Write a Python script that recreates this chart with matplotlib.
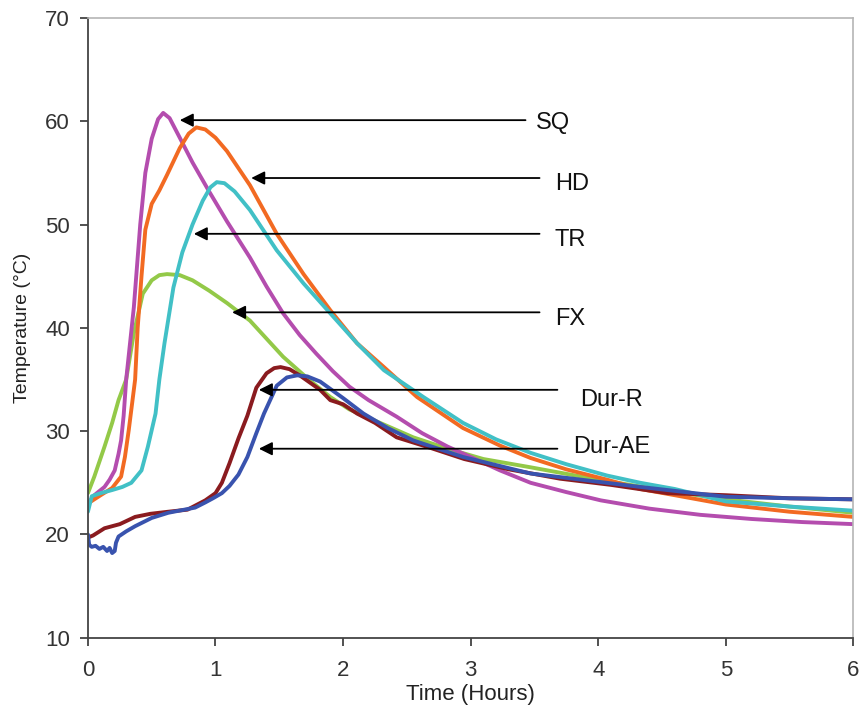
import matplotlib
matplotlib.use("Agg")
import matplotlib.pyplot as plt

plt.rcParams['font.family'] = ['Liberation Sans', 'DejaVu Sans']

# temperature curves (time in hours, temperature in C)
sq_t = [0, 0.05, 0.13, 0.17, 0.21, 0.24, 0.26, 0.28, 0.3, 0.33, 0.36, 0.41, 0.45,
        0.5, 0.55, 0.59, 0.64, 0.72, 0.82, 0.95, 1.09, 1.27, 1.4, 1.53, 1.66,
        1.79, 1.92, 2.05, 2.2, 2.42, 2.62, 2.82, 3.0, 3.23, 3.47, 3.75, 4.02,
        4.4, 4.8, 5.2, 5.6, 6.0]
sq_y = [23.0, 23.8, 24.6, 25.3, 26.2, 27.8, 29.1, 31.5, 35.0, 38.5, 42.0, 50.0, 55.0,
        58.3, 60.2, 60.8, 60.3, 58.4, 56.0, 53.2, 50.3, 46.8, 44.0, 41.4, 39.3,
        37.5, 35.8, 34.3, 33.0, 31.4, 29.8, 28.5, 27.5, 26.2, 25.0, 24.1, 23.3,
        22.5, 21.9, 21.5, 21.2, 21.0]

hd_t = [0, 0.1, 0.19, 0.26, 0.29, 0.32, 0.37, 0.39, 0.42, 0.45, 0.5, 0.56, 0.62,
        0.72, 0.79, 0.85, 0.92, 1.0, 1.09, 1.27, 1.48, 1.69, 1.9, 2.11, 2.32,
        2.58, 2.94, 3.23, 3.47, 3.75, 4.07, 4.33, 4.6, 5.0, 5.5, 6.0]
hd_y = [23.0, 23.8, 24.5, 25.6, 27.5, 30.1, 35.0, 40.0, 45.0, 49.5, 52.0, 53.3, 54.8,
        57.4, 58.8, 59.4, 59.2, 58.4, 57.1, 53.8, 49.1, 45.2, 41.7, 38.5, 36.2,
        33.3, 30.3, 28.6, 27.4, 26.3, 25.3, 24.4, 23.8, 22.9, 22.2, 21.7]

tr_t = [0, 0.03, 0.1, 0.19, 0.27, 0.34, 0.42, 0.47, 0.53, 0.56, 0.6, 0.67, 0.74,
        0.82, 0.9, 0.96, 1.01, 1.07, 1.15, 1.27, 1.48, 1.69, 1.9, 2.11, 2.32,
        2.63, 2.94, 3.2, 3.47, 3.75, 4.07, 4.33, 4.6, 5.0, 5.5, 6.0]
tr_y = [22.2, 23.7, 24.0, 24.3, 24.6, 25.0, 26.2, 28.5, 31.7, 35.0, 38.5, 43.9, 47.3,
        50.0, 52.3, 53.6, 54.1, 54.0, 53.2, 51.4, 47.5, 44.3, 41.4, 38.5, 35.9,
        33.3, 30.8, 29.2, 27.9, 26.8, 25.7, 25.0, 24.4, 23.2, 22.7, 22.3]

fx_t = [0, 0.05, 0.13, 0.19, 0.24, 0.3, 0.36, 0.43, 0.5, 0.56, 0.62, 0.72, 0.82,
        0.95, 1.09, 1.27, 1.53, 1.74, 1.9, 2.05, 2.29, 2.55, 2.82, 3.1, 3.47,
        4.0, 4.5, 5.0, 5.5, 6.0]
fx_y = [24.0, 25.6, 28.5, 30.8, 33.0, 35.0, 39.5, 43.3, 44.6, 45.1, 45.2, 45.1, 44.6,
        43.6, 42.4, 40.7, 37.2, 34.9, 33.3, 32.1, 30.8, 29.4, 28.3, 27.3, 26.5,
        25.3, 24.3, 23.4, 22.7, 22.1]

dr_t = [0, 0.04, 0.13, 0.25, 0.37, 0.49, 0.63, 0.78, 0.92, 1.0, 1.05, 1.11, 1.18,
        1.25, 1.32, 1.4, 1.46, 1.51, 1.58, 1.66, 1.74, 1.82, 1.9, 2.0, 2.11,
        2.25, 2.42, 2.68, 2.95, 3.3, 3.7, 4.1, 4.54, 5.0, 5.5, 6.0]
dr_y = [19.7, 19.9, 20.6, 21.0, 21.7, 22.0, 22.2, 22.4, 23.3, 24.0, 25.0, 26.9, 29.3,
        31.5, 34.2, 35.6, 36.1, 36.2, 36.0, 35.4, 34.7, 34.0, 33.0, 32.6, 31.7,
        30.8, 29.4, 28.4, 27.3, 26.3, 25.4, 24.8, 24.0, 23.8, 23.5, 23.4]

ae_t = [0, 0.01, 0.03, 0.06, 0.09, 0.12, 0.15, 0.17, 0.19, 0.21, 0.22, 0.24, 0.3,
        0.37, 0.5, 0.63, 0.84, 0.92, 0.98, 1.05, 1.11, 1.18, 1.25, 1.32, 1.38,
        1.48, 1.56, 1.64, 1.72, 1.82, 2.0, 2.16, 2.35, 2.55, 2.94, 3.47, 4.0,
        4.33, 5.0, 5.5, 6.0]
ae_y = [20.0, 19.0, 18.8, 18.9, 18.6, 18.8, 18.4, 18.7, 18.2, 18.4, 19.2, 19.8, 20.3,
        20.8, 21.6, 22.1, 22.6, 23.1, 23.5, 24.0, 24.7, 25.8, 27.5, 29.8, 31.7,
        34.4, 35.2, 35.4, 35.3, 34.8, 33.2, 31.7, 30.3, 29.1, 27.5, 25.9, 25.1,
        24.6, 23.65, 23.5, 23.4]

names = ['SQ', 'HD', 'TR', 'FX', 'Dur-R', 'Dur-AE']
# where each arrow points (time, temperature)
head_t = [0.72, 1.28, 0.83, 1.13, 1.34, 1.34]
head_y = [60.1, 54.5, 49.1, 41.5, 34.0, 28.3]

fig = plt.figure(figsize=(8.62, 7.15), dpi=100)
ax = fig.add_axes([0.102, 0.108, 0.888, 0.867])

lw = 2.8
style = dict(lw=lw, solid_joinstyle='round', solid_capstyle='round')
ax.plot(fx_t, fx_y, color='#93C948', **style)
ax.plot(sq_t, sq_y, color='#B44DAE', **style)
ax.plot(hd_t, hd_y, color='#F26A22', **style)
ax.plot(tr_t, tr_y, color='#41C0C6', **style)
ax.plot(dr_t, dr_y, color='#8A1B1F', **style)
ax.plot(ae_t, ae_y, color='#3953AE', **style)

# arrows and labels
tail_t = [3.43, 3.54, 3.54, 3.54, 3.68, 3.68]
text_t = [3.51, 3.66, 3.66, 3.66, 3.86, 3.80]
text_y = [59.8, 53.9, 48.5, 40.9, 33.0, 28.5]
for name, ht, hy, tt, xt, yt in zip(names, head_t, head_y, tail_t, text_t, text_y):
    ax.annotate('', xy=(ht, hy), xytext=(tt, hy),
                arrowprops=dict(arrowstyle='-|>', color='black', lw=1.3,
                                mutation_scale=20, shrinkA=0, shrinkB=0))
    ax.text(xt, yt, name, fontsize=17, va='center', ha='left', color='#111111')

ax.set_xlim(0, 6)
ax.set_ylim(10, 70)
ax.set_xticks(range(0, 7))
ax.set_yticks(range(10, 71, 10))
ax.tick_params(axis='both', labelsize=16, colors='#333333', length=6, width=1.2,
               direction='out')
ax.tick_params(axis='y', pad=7)
ax.tick_params(axis='x', pad=10)

for s in ['left', 'bottom']:
    ax.spines[s].set_color('#444444')
    ax.spines[s].set_linewidth(1.3)
for s in ['top', 'right']:
    ax.spines[s].set_color('#B5B5B5')
    ax.spines[s].set_linewidth(1.2)

ax.set_xlabel('Time (Hours)', fontsize=16, color='#222222', labelpad=2)
ax.set_ylabel('Temperature (\u00b0C)', fontsize=14, color='#222222', labelpad=10)

fig.savefig('out.png', dpi=100)
